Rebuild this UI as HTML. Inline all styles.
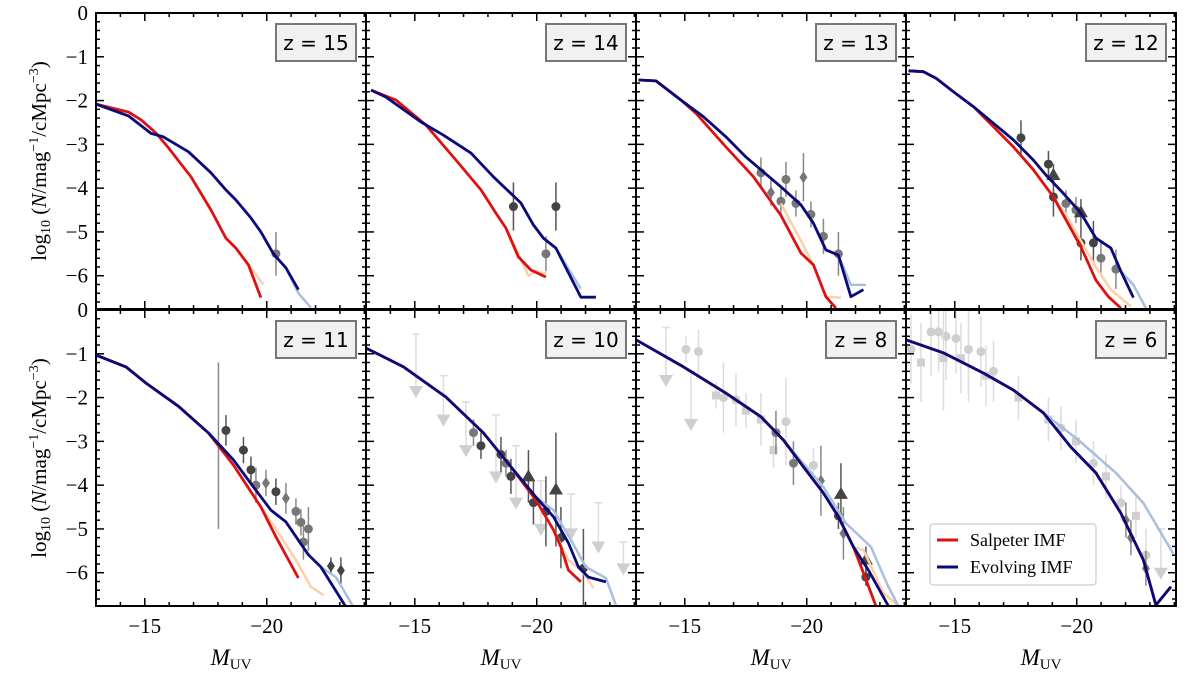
<!DOCTYPE html>
<html><head><meta charset="utf-8"><style>
html,body{margin:0;padding:0;background:#fff;}
svg{display:block;}
text{font-family:"Liberation Serif",serif;}
</style></head><body>
<svg id="chart" width="1200" height="675" viewBox="0 0 1200 675" xmlns="http://www.w3.org/2000/svg">
<g id="root"></g>
</svg>
<script>
// ---- data ----
const redshifts = ["15","14","13","12","11","10","8","6"];
// curves: [M, log10 phi] (M read on a 25 px/mag grid; corrected by magScale below)
const salpeterM = [
 [-13,-14.3,-14.8,-15.4,-15.9,-16.8,-17.6,-18.2,-18.6,-19.1,-19.6],
 [-13.2,-14.2,-15.4,-16.6,-17.6,-18.2,-18.6,-19.1,-19.6,-20.2],
 [-13.1,-13.8,-14.8,-15.4,-16.6,-17.7,-18.8,-19.6,-20.1,-20.6,-21.0],
 [-13.1,-13.7,-14.2,-14.9,-15.7,-16.5,-17.3,-18.1,-18.9,-19.4,-20.0,-20.6,-21.1,-21.6],
 [-13,-14.2,-15.0,-16.3,-17.5,-18.5,-19.6,-20.2,-21.1],
 [-13,-14.5,-16.2,-17.7,-18.8,-19.8,-20.5,-20.8,-21.1,-21.6],
 [-13,-14.9,-16.6,-18.0,-18.9,-19.7,-20.5,-21.1,-21.7,-22.1,-22.6],
 [-13.0,-14.5,-16.1,-17.3,-18.5,-19.6,-20.6,-21.6,-22.5,-23.0,-23.6]
];
const salpeterV = [
 [-2.08,-2.26,-2.44,-2.74,-3.08,-3.74,-4.5,-5.14,-5.37,-5.75,-6.5],
 [-1.76,-1.99,-2.56,-3.36,-4.04,-4.57,-4.91,-5.57,-5.87,-6.03],
 [-1.53,-1.55,-1.99,-2.29,-3.06,-3.74,-4.62,-5.48,-5.75,-6.48,-6.74],
 [-1.32,-1.34,-1.49,-1.8,-2.14,-2.6,-3.06,-3.58,-4.2,-4.72,-5.34,-6.1,-6.48,-6.74],
 [-1.03,-1.3,-1.67,-2.2,-2.81,-3.54,-4.5,-5.18,-6.12],
 [-0.87,-1.3,-1.99,-2.81,-3.58,-4.34,-5.02,-5.41,-5.94,-6.21],
 [-0.68,-1.3,-1.9,-2.44,-2.97,-3.58,-4.18,-4.72,-5.41,-6.0,-6.76],
 [-0.68,-0.98,-1.44,-1.83,-2.35,-3.13,-3.72,-4.64,-5.71,-6.74,-6.32]
];
const salpeterAltM = [
 [-19.1,-19.7],
 [-18.6,-19.1,-19.5,-19.8,-20.2],
 [-18.8,-19.6,-20.1,-20.6,-21.2],
 [-18.9,-19.4,-20.0,-20.6,-21.2,-22.0],
 [-19.6,-20.2,-21.0,-21.6,-22.1],
 [-20.5,-21.1,-21.7,-22.1],
 [-21.7,-22.1,-22.9,-23.5],
 []
];
const salpeterAltV = [
 [-5.75,-6.2],
 [-4.91,-5.5,-6.0,-5.9,-5.95],
 [-4.35,-5.2,-5.75,-6.48,-6.5],
 [-4.2,-4.6,-5.2,-5.8,-6.32,-6.7],
 [-4.5,-5.0,-5.71,-6.32,-6.51],
 [-5.02,-5.71,-6.0,-6.35],
 [-5.41,-5.48,-6.46,-6.76],
 []
];
const evolvingM = [
 [-13,-14.3,-15.2,-15.7,-16.7,-17.6,-18.2,-18.6,-19.2,-19.6,-20.1,-20.6,-21.1],
 [-13.2,-13.8,-15.2,-16.1,-17.2,-18.1,-19.2,-19.7,-20.1,-20.6,-21.6,-22.2],
 [-13.1,-13.8,-14.8,-15.7,-16.6,-17.4,-18.8,-19.6,-20.1,-20.6,-21.1,-21.6,-22.1],
 [-13.1,-13.7,-14.2,-14.9,-15.7,-16.5,-17.3,-18.1,-18.6,-19.3,-20.0,-20.6,-21.2,-21.6,-22.1],
 [-13,-14.2,-15.0,-16.3,-17.5,-18.5,-19.3,-20.0,-20.6,-21.5,-22.0,-23.0],
 [-13,-14.5,-16.2,-17.7,-18.8,-19.8,-20.5,-21.1,-21.5,-21.9,-22.6],
 [-13,-14.9,-16.6,-18.0,-18.9,-19.7,-20.5,-21.1,-21.7,-22.3,-23.1],
 [-13.0,-14.5,-16.1,-17.3,-18.5,-19.6,-20.6,-21.6,-22.5,-23.0,-23.6]
];
const evolvingV = [
 [-2.08,-2.35,-2.75,-2.83,-3.17,-3.65,-4.04,-4.27,-4.68,-5.0,-5.5,-5.82,-6.32],
 [-1.76,-1.92,-2.49,-2.79,-3.2,-3.74,-4.34,-4.84,-5.14,-5.37,-6.49,-6.49],
 [-1.53,-1.55,-1.99,-2.37,-2.83,-3.29,-3.97,-4.38,-4.8,-5.41,-5.53,-6.48,-6.32],
 [-1.32,-1.34,-1.49,-1.8,-2.14,-2.52,-2.9,-3.36,-3.7,-4.12,-4.57,-5.14,-5.37,-5.9,-6.5],
 [-1.03,-1.3,-1.67,-2.2,-2.81,-3.42,-4.04,-4.57,-4.84,-5.59,-5.87,-6.78],
 [-0.87,-1.3,-1.99,-2.81,-3.58,-4.27,-4.72,-5.32,-5.87,-6.1,-6.21],
 [-0.68,-1.3,-1.9,-2.44,-2.97,-3.58,-4.18,-4.72,-5.41,-5.94,-6.76],
 [-0.68,-0.98,-1.44,-1.83,-2.35,-3.13,-3.72,-4.64,-5.71,-6.74,-6.32]
];
const evolvingAltM = [
 [-20.6,-21.1,-21.6],
 [-20.1,-20.6,-21.6],
 [-21.1,-21.6,-22.2],
 [-21.6,-22.1,-22.6],
 [-22.0,-22.6,-23.3],
 [-19.8,-20.5,-21.2,-21.8,-22.6,-23.0],
 [-18.9,-20.5,-21.4,-22.4,-23.1,-23.5],
 [-18.5,-19.9,-21.4,-22.5,-23.7]
];
const evolvingAltV = [
 [-5.82,-6.4,-6.73],
 [-5.14,-5.37,-6.3],
 [-5.53,-6.21,-6.21],
 [-5.9,-6.21,-6.74],
 [-5.87,-6.1,-6.78],
 [-4.27,-4.57,-5.25,-5.87,-6.12,-6.74],
 [-2.97,-4.04,-4.87,-5.41,-6.32,-6.76],
 [-2.35,-2.97,-3.72,-4.41,-5.57]
];
const obsM = [
 [-20.2],
 [-18.9,-20.2,-20.6],
 [-18.0,-18.4,-18.8,-19.0,-19.4,-19.7,-20.0,-20.5,-21.1],
 [-17.6,-18.7,-18.9,-18.9,-19.4,-19.8,-20.0,-20.0,-20.5,-20.8,-21.4],
 [-17.9,-18.2,-18.9,-19.2,-19.4,-19.8,-20.2,-20.6,-21.0,-21.2,-21.3,-21.5,-22.4,-22.8],
 [-15.0,-16.1,-17.0,-18.2,-19.0,-20.0,-21.2,-22.3,-23.3,-17.3,-17.6,-18.4,-18.6,-18.8,-19.5,-19.7,-20.2,-20.6,-20.8,-21.7],
 [-15.0,-15.5,-16.5,-17.0,-19.0,-20.1,-16.2,-17.4,-18.0,-18.5,-14.2,-15.2,-18.6,-19.3,-20.4,-21.2,-21.1,-21.3,-22.2,-22.2],
 [-13.2,-14.0,-14.3,-14.6,-15.0,-15.5,-16.0,-16.5,-13.6,-14.5,-15.2,-16.2,-17.5,-18.7,-19.2,-19.8,-20.5,-21.0,-21.6,-22.2,-22.6,-23.2,-21.8,-22.0,-22.6]
];
const obsV = [
 [-5.5],
 [-4.42,-5.5,-4.42],
 [-3.65,-4.1,-4.3,-3.8,-4.35,-3.75,-4.6,-5.1,-5.5],
 [-2.85,-3.45,-3.7,-4.2,-4.35,-4.5,-4.55,-5.25,-5.25,-5.6,-5.85],
 [-3.1,-2.75,-3.2,-3.65,-4.0,-3.95,-4.15,-4.3,-4.6,-4.85,-5.3,-5.0,-5.85,-5.95],
 [-1.85,-2.5,-3.2,-3.8,-4.4,-5.0,-5.1,-5.4,-5.9,-2.8,-3.1,-3.3,-3.5,-3.8,-3.8,-4.4,-4.6,-4.1,-5.2,-5.9],
 [-0.9,-0.95,-2.0,-2.05,-2.55,-3.55,-1.95,-2.3,-2.5,-3.2,-1.6,-2.6,-2.8,-3.5,-3.9,-4.2,-4.7,-5.1,-5.7,-6.1],
 [-0.9,-0.5,-0.5,-0.6,-0.65,-0.9,-0.95,-1.4,-1.2,-1.1,-1.1,-1.5,-2.0,-2.5,-2.7,-3.0,-3.5,-3.8,-4.4,-4.7,-5.6,-6.0,-4.8,-5.2,-5.9]
];
const obsErr = [
 [0.5],
 [0.55,0.4,0.55],
 [0.35,0.3,0.3,0.4,0.3,0.55,0.3,0.4,0.5],
 [0.4,0.3,0.25,0.45,0.3,0.3,0.3,0.4,0.5,0.4,0.45],
 [1.9,0.35,0.3,0.3,0.4,0.3,0.3,0.35,0.3,0.3,0.4,0.5,0.2,0.3],
 [1.3,1.0,1.1,1.4,1.3,1.1,0.9,1.0,0.6,0.3,0.3,0.4,0.3,0.4,0.6,0.5,0.8,1.3,0.7,0.9],
 [0.3,0.5,0.8,0.6,1.0,0.4,0.3,0.4,0.6,0.4,1.2,1.2,0.5,0.5,0.8,0.7,0.3,0.6,0.3,0.2],
 [0.8,1.0,0.9,1.0,0.8,1.2,0.8,0.7,0.9,1.2,0.8,0.7,0.5,0.5,0.5,0.5,0.5,0.5,0.4,0.5,0.6,1.0,0.4,0.4,0.4]
];
const obsShade = [
 ["mid"],["dark","mid","dark"],
 ["mid","mid","mid","mid","mid","mid","mid","mid","mid"],
 ["dark","dark","dark","dark","mid","mid","dark","dark","dark","mid","mid"],
 ["none","dark","dark","dark","mid","mid","dark","mid","mid","mid","mid","mid","dark","dark"],
 ["light","light","light","light","light","light","light","light","light","mid","dark","dark","mid","dark","dark","dark","dark","dark","dark","dark"],
 ["light","light","light","light","light","light","light","light","light","light","light","light","mid","mid","mid","dark","dark","mid","dark","dark"],
 ["light","light","light","light","light","light","light","light","light","light","light","light","light","light","light","light","light","light","light","light","light","light","mid","mid","mid"]
];
const obsShape = [
 ["o"],["o","o","o"],
 ["o","d","o","o","o","d","o","o","o"],
 ["o","o","t","o","o","o","t","o","o","o","o"],
 ["o","o","o","o","o","d","o","d","o","o","o","o","d","d"],
 ["v","v","v","v","v","v","v","v","v","o","o","o","o","o","t","o","o","t","o","o"],
 ["o","o","o","o","o","o","s","s","s","s","v","v","o","o","d","t","o","d","t","o"],
 ["o","o","o","o","o","o","o","o","s","s","s","s","s","s","o","s","o","s","o","s","o","v","d","d","d"]
];
const xTickLabels = ["\u221215","\u221220"];
const xTickValues = [-15,-20];
const yTickValues = [0,-1,-2,-3,-4,-5,-6];

// ---- layout ----
const NS = "http://www.w3.org/2000/svg";
const root = document.getElementById("root");
const colX = [96,366,636,906];
const rowY = [13,310];
const PW = 270, PH = 296;
const xMin = -13, xMax = -24.07, yMin = -6.76;
const magScale = 25/24.4; // readings taken on 25px/mag grid; true axis is 24.4px/mag
const corrM = m => xMin + (m - xMin)*magScale;
function mk(tag, attrs, parent){
  const e = document.createElementNS(NS, tag);
  for (const k in attrs) e.setAttribute(k, attrs[k]);
  (parent||root).appendChild(e); return e;
}
const defs = mk("defs",{});
const shadeCol = {dark:"#444",mid:"#777",light:"#cfcfcf",none:"#888"};
const shadeBar = {dark:"#555",mid:"#888",light:"#dcdcdc",none:"#888"};

for (let p=0;p<8;p++){
  const x0 = colX[p%4], y0 = rowY[Math.floor(p/4)];
  const sx = m => x0 + (xMin - m)/(xMin - xMax)*PW;
  const sxd = m => sx(corrM(m));
  const sy = v => y0 + (v/yMin)*PH;
  const clip = mk("clipPath",{id:"clip"+p},defs);
  mk("rect",{x:x0,y:y0,width:PW,height:PH},clip);
  const g = mk("g",{"clip-path":"url(#clip"+p+")"});
  
  
  for (let i=0;i<obsM[p].length;i++){
    const cx = sxd(obsM[p][i]), cy = sy(obsV[p][i]), e = obsErr[p][i];
    const sh = obsShade[p][i], shape = obsShape[p][i];
    const og = mk("g",{},g);
    
    
    if (shape==="v") {
      mk("line",{x1:cx,x2:cx,y1:sy(obsV[p][i]+e),y2:cy,stroke:shadeBar[sh],"stroke-width":1.5},og);
      mk("line",{x1:cx-4,x2:cx+4,y1:sy(obsV[p][i]+e),y2:sy(obsV[p][i]+e),stroke:shadeBar[sh],"stroke-width":1.5},og);
    } else {
      mk("line",{x1:cx,x2:cx,y1:sy(obsV[p][i]+e),y2:sy(obsV[p][i]-e),stroke:shadeBar[sh],"stroke-width":1.5},og);
    }
    const c = shadeCol[sh];
    if (sh==="none") continue;
    if (shape==="o") mk("circle",{cx:cx,cy:cy,r:4.5,fill:c},og);
    else if (shape==="s") mk("rect",{x:cx-4,y:cy-4,width:8,height:8,fill:c},og);
    else if (shape==="d") mk("polygon",{points:`${cx},${cy-6} ${cx+4},${cy} ${cx},${cy+6} ${cx-4},${cy}`,fill:c},og);
    else if (shape==="t") mk("polygon",{points:`${cx},${cy-7} ${cx+7},${cy+5} ${cx-7},${cy+5}`,fill:c},og);
    else if (shape==="v") mk("polygon",{points:`${cx-7},${cy-5} ${cx+7},${cy-5} ${cx},${cy+7}`,fill:c},og);
  }
  const line = (M,V,col,w,name) => {
    if (!M.length) return;
    const pts = M.map((m,i)=>sxd(m).toFixed(1)+","+sy(V[i]).toFixed(1)).join(" ");
    const l = mk("polyline",{points:pts,fill:"none",stroke:col,"stroke-width":w,"stroke-linejoin":"round"},g);
    
    
  };
  line(salpeterAltM[p],salpeterAltV[p],"#fdd0a8",2.5,"salpeter-alt-line");
  line(evolvingAltM[p],evolvingAltV[p],"#a9bfdf",2.5,"evolving-alt-line");
  line(salpeterM[p],salpeterV[p],"#dd1111",2.8,"salpeter-line");
  line(evolvingM[p],evolvingV[p],"#0a0a7a",2.8,"evolving-line");
  const fr = mk("rect",{x:x0,y:y0,width:PW,height:PH,fill:"none",stroke:"#000","stroke-width":2});
  
  
  for (let m=-13;m>=-24;m--){
    const X = sx(m), L = (m%5===0)?8:4;
    mk("line",{x1:X,x2:X,y1:y0,y2:y0+L,stroke:"#000","stroke-width":1.5});
    mk("line",{x1:X,x2:X,y1:y0+PH,y2:y0+PH-L,stroke:"#000","stroke-width":1.5});
  }
  for (let k=0;k<=33;k++){
    const v=-k*0.2, Y=sy(v), L=(k%5===0)?8:4;
    mk("line",{x1:x0,x2:x0+L,y1:Y,y2:Y,stroke:"#000","stroke-width":1.5});
    mk("line",{x1:x0+PW,x2:x0+PW-L,y1:Y,y2:Y,stroke:"#000","stroke-width":1.5});
  }
  const lb = mk("g",{});
  
  
  const bw = redshifts[p].length>1?80:70;
  mk("rect",{x:x0+PW-10-bw,y:y0+11,width:bw,height:37,fill:"#f1f1f1",stroke:"#777","stroke-width":2},lb);
  const t = mk("text",{x:x0+PW-10-bw/2,y:y0+37,"text-anchor":"middle","font-size":20,style:'font-family:"DejaVu Sans","Liberation Sans",sans-serif'},lb);
  t.textContent = "z = "+redshifts[p];
  if (p>=4){
    xTickValues.forEach((v,i)=>{
      const tl = mk("text",{x:sx(v),y:633,"text-anchor":"middle","font-size":21});
      
      
      tl.textContent = xTickLabels[i];
    });
    const xt = mk("text",{x:x0+PW/2,y:665,"text-anchor":"middle","font-size":23,"font-style":"italic"});
    
    
    xt.innerHTML = 'M<tspan font-style="normal" font-size="15" dy="4">UV</tspan>';
  }
  if (p%4===0){
    yTickValues.forEach(v=>{
      if (p===4 && v===0) return;
      const tl = mk("text",{x:88,y:sy(v)+7,"text-anchor":"end","font-size":21});
      
      
      tl.textContent = v===0?"0":"\u2212"+(-v);
    });
    const yt = mk("text",{transform:`translate(46,${y0+PH/2}) rotate(-90)`,"text-anchor":"middle","font-size":21});
    
    
    yt.innerHTML = 'log<tspan font-size="14" dy="4">10</tspan><tspan dy="-4">  (</tspan><tspan font-style="italic">N</tspan>/mag<tspan font-size="14" dy="-8">\u22121</tspan><tspan dy="8">/cMpc</tspan><tspan font-size="14" dy="-8">\u22123</tspan><tspan dy="8">)</tspan>';
  }
}
const z0 = mk("text",{x:88,y:317,"text-anchor":"end","font-size":21});


z0.textContent = "0";

const lg = mk("g",{});


mk("rect",{x:930,y:524,width:166,height:61,rx:3,fill:"#fff",stroke:"#ccc","stroke-width":1.2},lg);
mk("line",{x1:937,x2:958,y1:540,y2:540,stroke:"#dd1111","stroke-width":3},lg);
mk("line",{x1:937,x2:958,y1:567,y2:567,stroke:"#0a0a7a","stroke-width":3},lg);
const l1 = mk("text",{x:970,y:546,"font-size":18},lg);


l1.textContent = "Salpeter IMF";
const l2 = mk("text",{x:970,y:573,"font-size":18},lg);


l2.textContent = "Evolving IMF";
</script>
</body></html>
